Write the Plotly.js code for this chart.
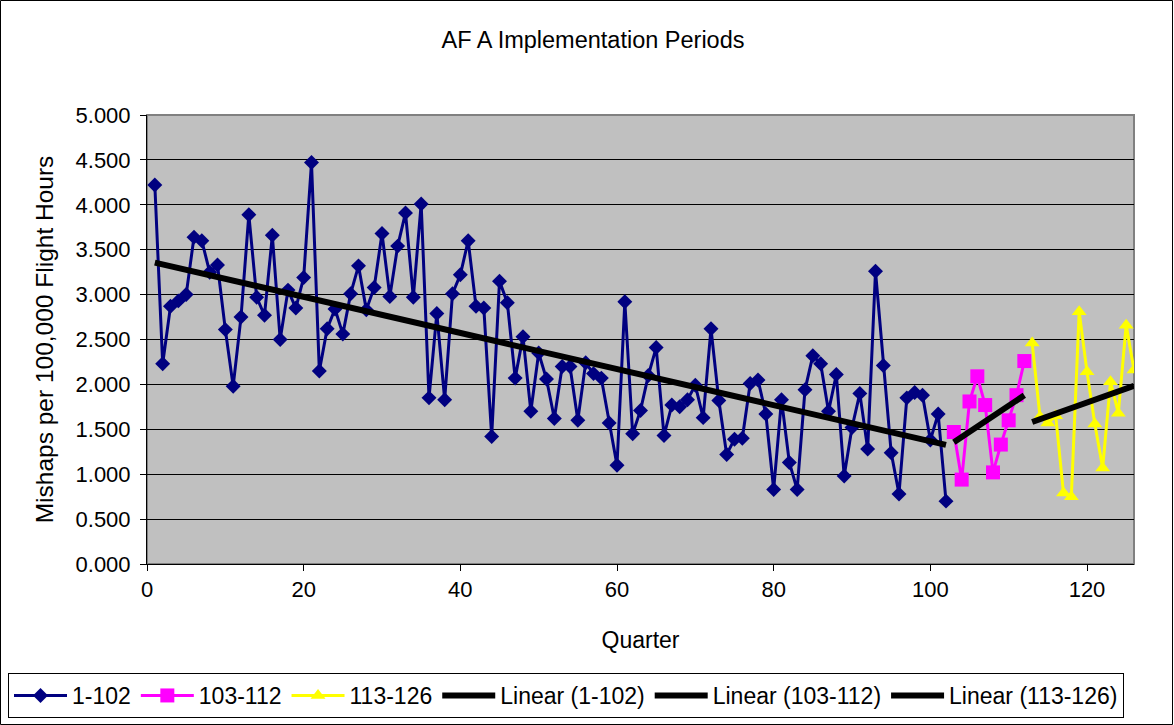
<!DOCTYPE html>
<html>
<head>
<meta charset="utf-8">
<script src="https://cdn.plot.ly/plotly-3.0.1.min.js"></script>
<style>
html,body{margin:0;padding:0;background:#fff;}
#chart{width:1174px;height:725px;}
</style>
</head>
<body>
<div id="chart"></div>
<script>
// Series 1: quarters 1-102
const s1Values = [4.22,2.23,2.87,2.93,3.00,3.64,3.60,3.25,3.33,2.61,
  1.98,2.75,3.89,2.97,2.77,3.66,2.50,3.05,2.85,3.19,
  4.47,2.15,2.62,2.84,2.56,3.01,3.32,2.83,3.08,3.68,
  2.98,3.54,3.91,2.97,4.01,1.85,2.79,1.83,3.01,3.22,
  3.60,2.87,2.85,1.42,3.15,2.91,2.07,2.53,1.70,2.35,
  2.06,1.62,2.20,2.20,1.60,2.24,2.12,2.07,1.57,1.10,
  2.92,1.45,1.71,2.10,2.41,1.43,1.77,1.75,1.83,1.99,
  1.63,2.62,1.82,1.22,1.39,1.40,2.01,2.05,1.67,0.83,
  1.83,1.13,0.83,1.94,2.32,2.23,1.70,2.11,0.98,1.52,
  1.90,1.28,3.26,2.21,1.24,0.78,1.85,1.91,1.88,1.38,
  1.67,0.70];
// Series 2: quarters 103-112
const s2Values = [1.47,0.94,1.81,2.09,1.77,1.02,1.33,1.60,1.88,2.26];
// Series 3: quarters 113-126
const s3Values = [2.46,1.64,1.57,1.65,0.79,0.75,2.81,2.14,1.56,1.07,2.03,1.68,2.66,2.16];

const s1Start = 1, s2Start = 103, s3Start = 113;
const seriesNames = ["1-102","103-112","113-126"];
const trendNames = ["Linear (1-102)","Linear (103-112)","Linear (113-126)"];
const xTicks = [0,20,40,60,80,100,120];
const yTicks = [0,0.5,1,1.5,2,2.5,3,3.5,4,4.5,5];

function quarters(start, n){ const a=[]; for(let i=0;i<n;i++) a.push(start+i); return a; }
function linfit(xs, ys){
  const n=xs.length; let sx=0,sy=0,sxx=0,sxy=0;
  for(let i=0;i<n;i++){sx+=xs[i];sy+=ys[i];sxx+=xs[i]*xs[i];sxy+=xs[i]*ys[i];}
  const b=(n*sxy-sx*sy)/(n*sxx-sx*sx); const a=(sy-b*sx)/n;
  return [xs[0], xs[n-1]].map(x=>a+b*x);
}

const x1 = quarters(s1Start, s1Values.length);
const x2 = quarters(s2Start, s2Values.length);
const x3 = quarters(s3Start, s3Values.length);

const colors = ["#000080","#FF00FF","#FFFF00"];
const traces = [
  {x:x1, y:s1Values, name:seriesNames[0], mode:"lines+markers", type:"scatter",
   line:{color:colors[0], width:3}, marker:{symbol:"diamond", size:11.5, color:colors[0]}},
  {x:x2, y:s2Values, name:seriesNames[1], mode:"lines+markers", type:"scatter",
   line:{color:colors[1], width:3}, marker:{symbol:"square", size:14, color:colors[1]}},
  {x:x3, y:s3Values, name:seriesNames[2], mode:"lines+markers", type:"scatter",
   line:{color:colors[2], width:3}, marker:{symbol:"triangle-up", size:13, color:colors[2]}}
];
[[x1,s1Values],[x2,s2Values],[x3,s3Values]].forEach((d,i)=>{
  const xs=[d[0][0], d[0][d[0].length-1]];
  traces.push({x:xs, y:linfit(d[0],d[1]), name:trendNames[i], mode:"lines", type:"scatter",
    line:{color:"#000000", width:6}});
});

const pw = 1134-147, ph = 564-115;
const FONT = "Liberation Sans, Arial, sans-serif";
const layout = {
  width:1174, height:725,
  margin:{l:147, r:40, t:115, b:161, pad:0, autoexpand:false},
  paper_bgcolor:"#ffffff", plot_bgcolor:"#C0C0C0",
  font:{family:FONT, size:22, color:"#000"},
  title:{text:"AF A Implementation Periods", x:593/1174, xanchor:"center", y:1-40/725, yanchor:"middle",
         font:{size:23.5, color:"#000", family:FONT}},
  xaxis:{range:[0,126], tickvals:xTicks, ticktext:xTicks.map(String), showgrid:false, zeroline:false,
         showline:true, linecolor:"#000", linewidth:1, ticks:"outside", ticklen:6, tickcolor:"#000",
         automargin:false,
         title:{text:"Quarter", standoff:30, font:{size:23}}, tickfont:{size:22}},
  yaxis:{range:[0,5], tickvals:yTicks, ticktext:yTicks.map(v=>v.toFixed(3)), showgrid:true, gridcolor:"#000",
         gridwidth:1, zeroline:false, showline:true, linecolor:"#000", linewidth:1, ticks:"outside",
         ticklen:6, tickcolor:"#000", ticklabelstandoff:5, automargin:false,
         title:{text:"Mishaps per 100,000 Flight Hours", standoff:14, font:{size:24.5}},
         tickfont:{size:22}},
  showlegend:true,
  legend:{orientation:"h", x:(8-147)/pw, xanchor:"left", y:(564-718)/ph, yanchor:"bottom",
          bgcolor:"#ffffff", bordercolor:"#000", borderwidth:1, font:{size:23, color:"#000", family:FONT},
          itemwidth:53, tracegroupgap:0, traceorder:"normal"},
  shapes:[
    {type:"rect", xref:"paper", yref:"paper", x0:0, x1:1, y0:0, y1:1, line:{color:"#808080", width:2}, layer:"below"},
    {type:"rect", xref:"paper", yref:"paper", x0:(0.5-147)/pw, x1:(1172.5-147)/pw, y0:(564-724.5)/ph, y1:(564-0.5)/ph,
     line:{color:"#000", width:1}}
  ]
};
Plotly.newPlot("chart", traces, layout, {displayModeBar:false, staticPlot:true});
</script>
</body>
</html>
